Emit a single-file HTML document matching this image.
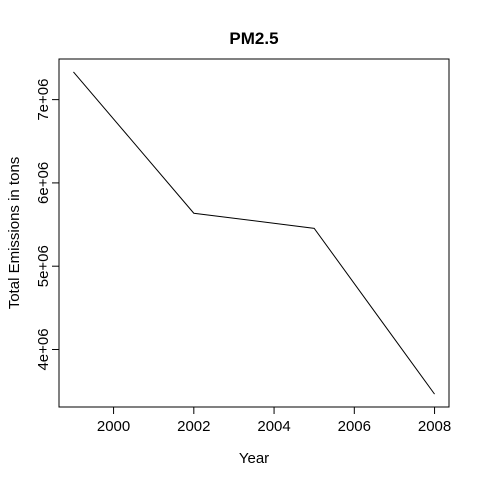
<!DOCTYPE html>
<html><head><meta charset="utf-8"><style>
html,body{margin:0;padding:0;background:#fff;}
svg text{font-family:"Liberation Sans",Arial,sans-serif;fill:#000;}
</style></head><body>
<svg id="chart" width="480" height="480">
<rect width="480" height="480" fill="#fff"/>
<text x="254" y="44" font-size="17" font-weight="bold" text-anchor="middle">PM2.5</text>
<text x="254" y="463" font-size="15" text-anchor="middle">Year</text>
<text x="0" y="0" font-size="15" text-anchor="middle" transform="translate(19,233) rotate(-90)">Total Emissions in tons</text>
<rect x="59" y="59" width="390" height="348" fill="none" stroke="#000" stroke-width="1"/>
<g id="xaxis"></g><g id="yaxis"></g><g id="series"></g>
</svg>
<script>
const years = [1999, 2002, 2005, 2008];
const emissions = [7332967, 5635780, 5454703, 3464206];
const xTicks = [2000, 2002, 2004, 2006, 2008];
const yTicks = [4000000, 5000000, 6000000, 7000000];
const yTickLabels = ["4e+06", "5e+06", "6e+06", "7e+06"];

const L=59,R=449,T=59,B=407;
const xmin=Math.min(...years),xmax=Math.max(...years);
const xpad=(xmax-xmin)*0.04;
const ymin=Math.min(...emissions),ymax=Math.max(...emissions);
const ypad=(ymax-ymin)*0.04;
const xs=v=>L+(v-(xmin-xpad))/((xmax+xpad)-(xmin-xpad))*(R-L);
const ys=v=>B-(v-(ymin-ypad))/((ymax+ypad)-(ymin-ypad))*(B-T);
const NS="http://www.w3.org/2000/svg";
function mk(tag,attrs,parent){const e=document.createElementNS(NS,tag);for(const k in attrs)e.setAttribute(k,attrs[k]);parent.appendChild(e);return e;}
const xa=document.getElementById('xaxis'),ya=document.getElementById('yaxis'),sg=document.getElementById('series');
mk('line',{x1:xs(xTicks[0]),x2:xs(xTicks[xTicks.length-1]),y1:B,y2:B,stroke:'#000'},xa);
xTicks.forEach(t=>{
  const l=mk('line',{x1:xs(t),x2:xs(t),y1:B,y2:B+7,stroke:'#000'},xa);
  
  
  const tx=mk('text',{x:xs(t),y:431,'font-size':15,'text-anchor':'middle'},xa);
  tx.textContent=t;
  
  
});
mk('line',{x1:L,x2:L,y1:ys(yTicks[0]),y2:ys(yTicks[yTicks.length-1]),stroke:'#000'},ya);
yTicks.forEach((t,i)=>{
  const l=mk('line',{x1:L-7,x2:L,y1:ys(t),y2:ys(t),stroke:'#000'},ya);
  
  
  const tx=mk('text',{x:0,y:0,'font-size':15,'text-anchor':'middle',transform:`translate(48,${ys(t)}) rotate(-90)`},ya);
  tx.textContent=yTickLabels[i];
  
  
});
const pts=years.map((y,i)=>xs(y)+','+ys(emissions[i])).join(' ');
const pl=mk('polyline',{points:pts,fill:'none',stroke:'#000','stroke-width':1},sg);


</script>
</body></html>
